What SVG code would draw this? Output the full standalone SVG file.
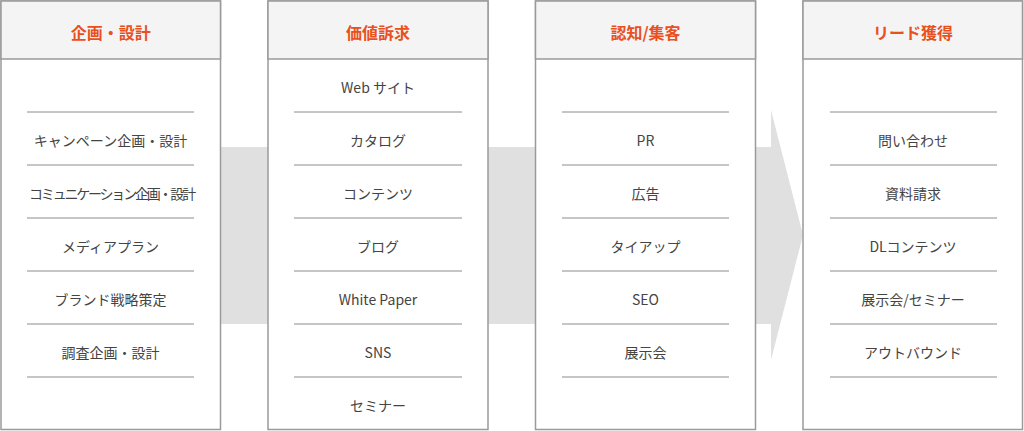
<svg xmlns="http://www.w3.org/2000/svg" width="1024" height="431" viewBox="0 0 1024 431">
<style>
.box{fill:#fff;stroke:#9a9a9a;stroke-width:1.5}
.hd{fill:#f4f4f4;stroke:#9a9a9a;stroke-width:1.5}
.sep{stroke:#8c8c8c;stroke-width:1}
.ht{font-family:"Noto Sans CJK JP","Noto Sans",sans-serif;font-size:16px;font-weight:bold;fill:#e8501e;text-anchor:middle}
.it{font-family:"Noto Sans CJK JP","Noto Sans",sans-serif;font-size:14px;fill:#444;text-anchor:middle}
</style>
<rect width="1024" height="431" fill="#fff"/>
<g id="connectors">
<polygon points="220,147 771,147 771,110 803,235 771,360 771,324 220,324" fill="#e0e0e0"/>
</g>
<g id="col1">
<rect class="box" x="1" y="1" width="219.5" height="428.5"/>
<rect class="hd" x="1" y="1" width="219.5" height="58"/>
<text class="ht" x="110.75" y="39">企画・設計</text>
<g class="sep">
<line x1="27" y1="112" x2="194" y2="112"/><line x1="27" y1="165" x2="194" y2="165"/><line x1="27" y1="218" x2="194" y2="218"/><line x1="27" y1="271" x2="194" y2="271"/><line x1="27" y1="324" x2="194" y2="324"/><line x1="27" y1="377" x2="194" y2="377"/>
</g>
<text class="it" x="110.5" y="146">キャンペーン企画・設計</text>
<text class="it" x="111.5" y="199" letter-spacing="-2.2">コミュニケーション企画・設計</text>
<text class="it" x="110.5" y="252">メディアプラン</text>
<text class="it" x="110.5" y="305">ブランド戦略策定</text>
<text class="it" x="110.5" y="358">調査企画・設計</text>
</g>
<g id="col2">
<rect class="box" x="268" y="1" width="220" height="428.5"/>
<rect class="hd" x="268" y="1" width="220" height="58"/>
<text class="ht" x="378" y="39">価値訴求</text>
<g class="sep">
<line x1="294" y1="112" x2="462" y2="112"/><line x1="294" y1="165" x2="462" y2="165"/><line x1="294" y1="218" x2="462" y2="218"/><line x1="294" y1="271" x2="462" y2="271"/><line x1="294" y1="324" x2="462" y2="324"/><line x1="294" y1="377" x2="462" y2="377"/>
</g>
<text class="it" x="378" y="93">Web サイト</text>
<text class="it" x="378" y="146">カタログ</text>
<text class="it" x="378" y="199">コンテンツ</text>
<text class="it" x="378" y="252">ブログ</text>
<text class="it" x="378" y="305">White Paper</text>
<text class="it" x="378" y="358">SNS</text>
<text class="it" x="378" y="411">セミナー</text>
</g>
<g id="col3">
<rect class="box" x="535.5" y="1" width="220" height="428.5"/>
<rect class="hd" x="535.5" y="1" width="220" height="58"/>
<text class="ht" x="645.5" y="39">認知/集客</text>
<g class="sep">
<line x1="562" y1="112" x2="729" y2="112"/><line x1="562" y1="165" x2="729" y2="165"/><line x1="562" y1="218" x2="729" y2="218"/><line x1="562" y1="271" x2="729" y2="271"/><line x1="562" y1="324" x2="729" y2="324"/><line x1="562" y1="377" x2="729" y2="377"/>
</g>
<text class="it" x="645.5" y="146">PR</text>
<text class="it" x="645.5" y="199">広告</text>
<text class="it" x="645.5" y="252">タイアップ</text>
<text class="it" x="645.5" y="305">SEO</text>
<text class="it" x="645.5" y="358">展示会</text>
</g>
<g id="col4">
<rect class="box" x="803" y="1" width="219.5" height="428.5"/>
<rect class="hd" x="803" y="1" width="219.5" height="58"/>
<text class="ht" x="913" y="39">リード獲得</text>
<g class="sep">
<line x1="830" y1="112" x2="997" y2="112"/><line x1="830" y1="165" x2="997" y2="165"/><line x1="830" y1="218" x2="997" y2="218"/><line x1="830" y1="271" x2="997" y2="271"/><line x1="830" y1="324" x2="997" y2="324"/><line x1="830" y1="377" x2="997" y2="377"/>
</g>
<text class="it" x="913" y="146">問い合わせ</text>
<text class="it" x="913" y="199">資料請求</text>
<text class="it" x="913" y="252">DLコンテンツ</text>
<text class="it" x="913" y="305">展示会/セミナー</text>
<text class="it" x="913" y="358">アウトバウンド</text>
</g>
</svg>
